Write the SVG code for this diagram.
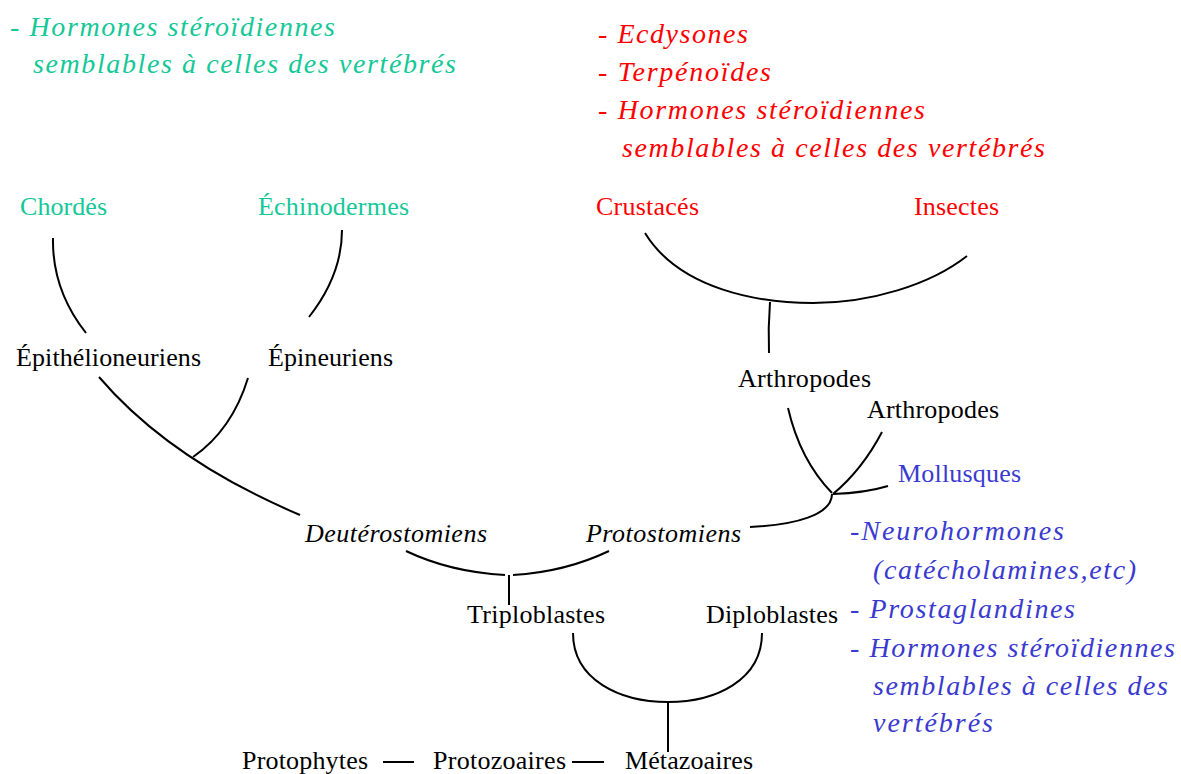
<svg xmlns="http://www.w3.org/2000/svg" width="1181" height="774" viewBox="0 0 1181 774">
<style>
text{font-family:"Liberation Serif","Times New Roman",serif;}
.lbl{font-size:26px;fill:#000;}
.it{font-style:italic;}
.note{font-size:28px;font-style:italic;}
.g{fill:#14c897;}
.r{fill:#ff0000;}
.b{fill:#3a3ad0;}
.edge{fill:none;stroke:#000;stroke-width:2;}
</style>
<rect width="1181" height="774" fill="#fff"/>
<g id="notes">
<g id="note-green">
<text class="note g" x="10" y="36" textLength="325">- Hormones stéroïdiennes</text>
<text class="note g" x="33" y="73" textLength="423">semblables à celles des vertébrés</text>
</g>
<g id="note-red">
<text class="note r" x="598" y="43" textLength="150">- Ecdysones</text>
<text class="note r" x="598" y="81" textLength="173">- Terpénoïdes</text>
<text class="note r" x="598" y="119" textLength="327">- Hormones stéroïdiennes</text>
<text class="note r" x="622" y="157" textLength="423">semblables à celles des vertébrés</text>
</g>
<g id="note-blue">
<text class="note b" x="850" y="540" textLength="214">-Neurohormones</text>
<text class="note b" x="873" y="579" textLength="263">(catécholamines,etc)</text>
<text class="note b" x="850" y="618" textLength="225">- Prostaglandines</text>
<text class="note b" x="850" y="657" textLength="325">- Hormones stéroïdiennes</text>
<text class="note b" x="873" y="695" textLength="295">semblables à celles des</text>
<text class="note b" x="873" y="732" textLength="120">vertébrés</text>
</g>
</g>
<g id="connectors">
<path class="edge" d="M53,238 Q52,290 86,333"/>
<path class="edge" d="M342,230 Q342,275 309,317"/>
<path class="edge" d="M99,377 Q170,460 300,515"/>
<path class="edge" d="M248,378 Q232,430 193,457"/>
<path class="edge" d="M645,233 C680,290 760,303 813,303 C870,303 930,285 967,256"/>
<path class="edge" d="M770,302 Q768,328 769,353"/>
<path class="edge" d="M788,408 Q800,460 832,493"/>
<path class="edge" d="M882,432 Q862,470 833,494"/>
<path class="edge" d="M833,494 Q865,493 888,486"/>
<path class="edge" d="M832,494 C832,515 795,525 750,527"/>
<path class="edge" d="M406,551 Q450,572 505,575"/>
<path class="edge" d="M513,575 Q565,572 609,551"/>
<path class="edge" d="M509,575 L509,605"/>
<path class="edge" d="M573,633 C573,680 620,702 668,702 C716,702 762,680 762,633"/>
<path class="edge" d="M668,702 L668,752"/>
<path class="edge" d="M383,762 L414,762"/>
<path class="edge" d="M572,762 L604,762"/>
</g>
<g id="n-chordes"><text class="lbl g" x="20" y="215" textLength="87">Chordés</text></g>
<g id="n-echinodermes"><text class="lbl g" x="258" y="215" textLength="151">Échinodermes</text></g>
<g id="n-crustaces"><text class="lbl r" x="596" y="215" textLength="103">Crustacés</text></g>
<g id="n-insectes"><text class="lbl r" x="914" y="215" textLength="85">Insectes</text></g>
<g id="n-epithelioneuriens"><text class="lbl" x="16" y="366" textLength="185">Épithélioneuriens</text></g>
<g id="n-epineuriens"><text class="lbl" x="268" y="366" textLength="125">Épineuriens</text></g>
<g id="n-arthropodes1"><text class="lbl" x="738" y="387" textLength="133">Arthropodes</text></g>
<g id="n-arthropodes2"><text class="lbl" x="867" y="418" textLength="132">Arthropodes</text></g>
<g id="n-mollusques"><text class="lbl b" x="898" y="482" textLength="123">Mollusques</text></g>
<g id="n-deuterostomiens"><text class="lbl it" x="305" y="542" textLength="182">Deutérostomiens</text></g>
<g id="n-protostomiens"><text class="lbl it" x="586" y="542" textLength="155">Protostomiens</text></g>
<g id="n-triploblastes"><text class="lbl" x="467" y="623" textLength="138">Triploblastes</text></g>
<g id="n-diploblastes"><text class="lbl" x="706" y="623" textLength="132">Diploblastes</text></g>
<g id="n-protophytes"><text class="lbl" x="242" y="769" textLength="126">Protophytes</text></g>
<g id="n-protozoaires"><text class="lbl" x="433" y="769" textLength="133">Protozoaires</text></g>
<g id="n-metazoaires"><text class="lbl" x="625" y="769" textLength="128">Métazoaires</text></g>
</svg>
